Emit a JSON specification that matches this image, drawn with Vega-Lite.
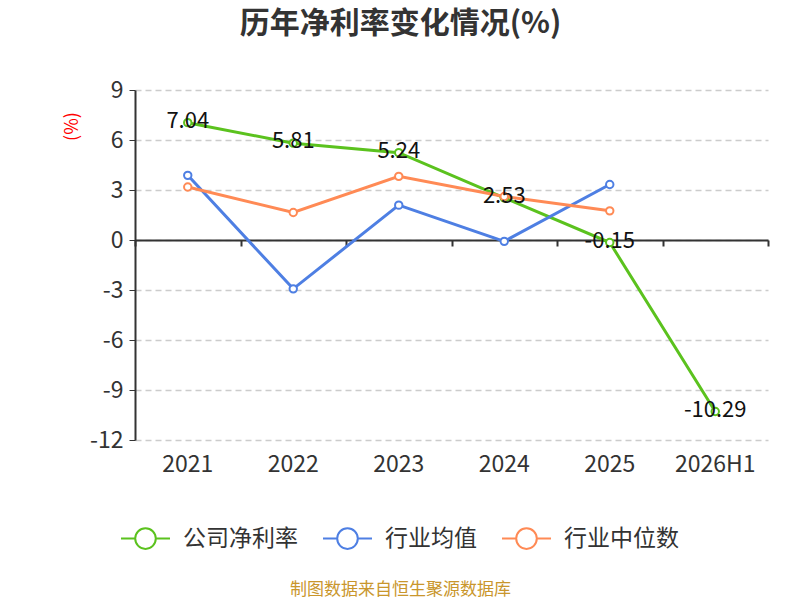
{
  "$schema": "https://vega.github.io/schema/vega-lite/v6.json",
  "width": 633,
  "height": 350,
  "autosize": {"type": "none"},
  "padding": {"left": 135, "top": 90, "right": 32, "bottom": 160},
  "background": "white",
  "config": {
    "font": "Noto Sans CJK SC",
    "view": {"stroke": null},
    "title": {"fontSize": 30, "fontWeight": "bold", "color": "#333333", "anchor": "middle", "dx": -51, "offset": 40}
  },
  "title": "历年净利率变化情况(%)",
  "data": {
    "values": [
      {"year": "2021", "series": "公司净利率", "value": 7.04},
      {"year": "2022", "series": "公司净利率", "value": 5.81},
      {"year": "2023", "series": "公司净利率", "value": 5.24},
      {"year": "2024", "series": "公司净利率", "value": 2.53},
      {"year": "2025", "series": "公司净利率", "value": -0.15},
      {"year": "2026H1", "series": "公司净利率", "value": -10.29},
      {"year": "2021", "series": "行业均值", "value": 3.88},
      {"year": "2022", "series": "行业均值", "value": -2.93},
      {"year": "2023", "series": "行业均值", "value": 2.09},
      {"year": "2024", "series": "行业均值", "value": -0.08},
      {"year": "2025", "series": "行业均值", "value": 3.33},
      {"year": "2021", "series": "行业中位数", "value": 3.18},
      {"year": "2022", "series": "行业中位数", "value": 1.65},
      {"year": "2023", "series": "行业中位数", "value": 3.82},
      {"year": "2024", "series": "行业中位数", "value": 2.61},
      {"year": "2025", "series": "行业中位数", "value": 1.75}
    ]
  },
  "resolve": {"axis": {"x": "independent"}},
  "layer": [
    {
      "mark": {"type": "line", "strokeWidth": 3},
      "encoding": {
        "x": {
          "field": "year", "type": "ordinal", "sort": null,
          "scale": {"paddingInner": 0, "paddingOuter": 0},
          "axis": {
            "orient": "bottom", "domain": false, "ticks": false, "grid": false,
            "labelAngle": 0, "labelFontSize": 23, "labelColor": "#333333", "labelPadding": 13,
            "title": "制图数据来自恒生聚源数据库", "titleColor": "#c9962c", "titleFontSize": 17,
            "titleFontWeight": "normal", "titlePadding": 105, "titleX": 265
          }
        },
        "y": {
          "field": "value", "type": "quantitative",
          "scale": {"domain": [-12, 9], "nice": false, "zero": false},
          "axis": {
            "values": [-12, -9, -6, -3, 0, 3, 6, 9],
            "labelFontSize": 23, "labelColor": "#333333", "labelPadding": 6,
            "labelExpr": "replace(datum.label, '−', '-')",
            "domain": true, "domainColor": "#333333", "domainWidth": 2,
            "ticks": true, "tickColor": "#333333", "tickSize": 6,
            "grid": true, "gridColor": "#cccccc", "gridDash": [6, 4], "gridWidth": 1.5,
            "title": "(%)", "titleColor": "#ff0000", "titleFontSize": 18, "titleFontWeight": "normal",
            "titleX": -63, "titleY": 36, "titleAngle": -90, "titleAlign": "center", "titleBaseline": "middle"
          }
        },
        "color": {
          "field": "series", "type": "nominal",
          "scale": {"domain": ["公司净利率", "行业均值", "行业中位数"], "range": ["#5bc21e", "#4e7fe3", "#ff8a55"]},
          "legend": {
            "orient": "none", "legendX": -15, "legendY": 423, "direction": "horizontal",
            "title": null, "labelFontSize": 23, "labelColor": "#333333", "labelOffset": 12,
            "symbolType": "M-1,0L-0.42,0M0.42,0L1,0M0.42,0A0.42,0.42 0 1,1 -0.42,0A0.42,0.42 0 1,1 0.42,0",
            "symbolSize": 2400, "symbolStrokeWidth": 2, "symbolFillColor": "white", "columnPadding": 21
          }
        }
      }
    },
    {
      "mark": {"type": "point", "filled": true, "fill": "white", "size": 55, "strokeWidth": 2, "opacity": 1},
      "encoding": {
        "x": {"field": "year", "type": "ordinal", "sort": null, "axis": {
          "orient": "bottom", "offset": -200, "labels": false, "domain": true, "domainColor": "#333333", "domainWidth": 2,
          "ticks": true, "tickBand": "extent", "tickColor": "#333333", "tickSize": 6, "tickWidth": 2, "grid": false, "title": null
        }},
        "y": {"field": "value", "type": "quantitative"},
        "stroke": {"field": "series", "type": "nominal", "scale": {"domain": ["公司净利率", "行业均值", "行业中位数"], "range": ["#5bc21e", "#4e7fe3", "#ff8a55"]}, "legend": null}
      }
    },
    {
      "transform": [{"filter": "datum.series === '公司净利率'"}],
      "mark": {"type": "text", "fontSize": 22, "color": "#111111", "baseline": "middle", "dy": -2},
      "encoding": {
        "x": {"field": "year", "type": "ordinal", "sort": null, "axis": null},
        "y": {"field": "value", "type": "quantitative"},
        "text": {"field": "value", "type": "nominal"}
      }
    }
  ]
}
